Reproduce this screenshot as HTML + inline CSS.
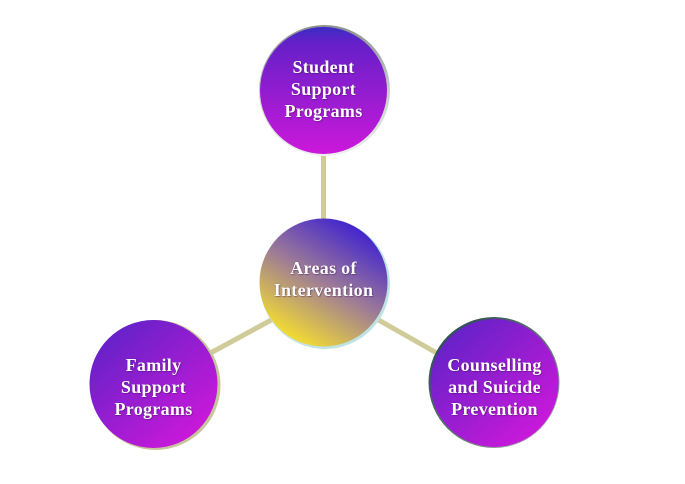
<!DOCTYPE html>
<html><head><meta charset="utf-8"><style>
html,body{margin:0;padding:0;background:#fff;}
#w{position:relative;width:685px;height:484px;overflow:hidden;background:#fff;}
svg{position:absolute;left:0;top:0;}
.t{position:absolute;width:140px;text-align:center;color:#fff;font-family:"Liberation Serif",serif;font-weight:bold;font-size:18px;line-height:22px;letter-spacing:0.3px;text-shadow:0 0 1px rgba(60,20,80,0.6),1px 1px 1px rgba(60,20,80,0.35);}
</style></head><body><div id="w">
<svg width="685" height="484" viewBox="0 0 685 484">
<defs>
<linearGradient id="gTop" x1="0" y1="0" x2="0" y2="1">
<stop offset="0" stop-color="#3a2cc4"/>
<stop offset="0.12" stop-color="#6420c8"/>
<stop offset="1" stop-color="#cc18da"/>
</linearGradient>
<linearGradient id="gSide" x1="0.15" y1="0.1" x2="0.85" y2="0.9">
<stop offset="0" stop-color="#6422c8"/>
<stop offset="1" stop-color="#cc18da"/>
</linearGradient>
<linearGradient id="gCen" x1="0.8" y1="0.05" x2="0.25" y2="0.95">
<stop offset="0" stop-color="#3c1ed2"/>
<stop offset="0.5" stop-color="#9c7a98"/>
<stop offset="1" stop-color="#f4de30"/>
</linearGradient>
<linearGradient id="rTop" x1="0" y1="0" x2="0" y2="1">
<stop offset="0" stop-color="#8a9090"/>
<stop offset="0.5" stop-color="#c8cccc"/>
<stop offset="1" stop-color="#eef0f0"/>
</linearGradient>
<linearGradient id="rRight" x1="0" y1="0" x2="1" y2="1">
<stop offset="0" stop-color="#1e4646"/>
<stop offset="0.6" stop-color="#6a7a7a"/>
<stop offset="1" stop-color="#c8cccc"/>
</linearGradient>
</defs>
<g stroke="#cfcc9a" stroke-width="5" stroke-linecap="butt">
<line x1="323.5" y1="150" x2="323.5" y2="225"/>
<line x1="205" y1="356" x2="275" y2="318"/>
<line x1="375" y1="318" x2="442" y2="356"/>
</g>
<!-- top -->
<circle cx="324.5" cy="90.5" r="65.5" fill="url(#rTop)"/>
<circle cx="323.5" cy="90.5" r="63.5" fill="url(#gTop)"/>
<!-- center -->
<circle cx="325" cy="284" r="65" fill="#bfe3e3"/>
<circle cx="323.5" cy="282.5" r="64" fill="url(#gCen)"/>
<!-- left -->
<circle cx="155.5" cy="385" r="65" fill="#c9c59a"/>
<circle cx="153.5" cy="384" r="64" fill="url(#gSide)"/>
<!-- right -->
<circle cx="494" cy="382.5" r="65.5" fill="url(#rRight)"/>
<circle cx="494.5" cy="383" r="64" fill="url(#gSide)"/>
</svg>
<div class="t" style="left:253.5px;top:56px;">Student<br>Support<br>Programs</div>
<div class="t" style="left:253.5px;top:257px;">Areas of<br>Intervention</div>
<div class="t" style="left:83.5px;top:354px;">Family<br>Support<br>Programs</div>
<div class="t" style="left:424.5px;top:354px;">Counselling<br>and Suicide<br>Prevention</div>
</div></body></html>
